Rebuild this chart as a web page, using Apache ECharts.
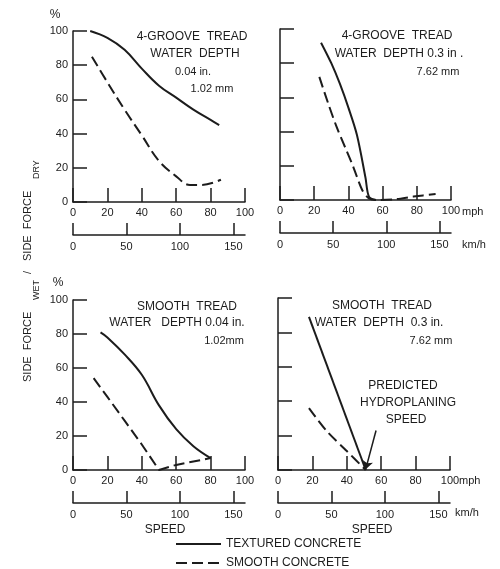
<!DOCTYPE html>
<html>
<head>
<meta charset="utf-8">
<script src="https://cdn.jsdelivr.net/npm/echarts@6.0.0/dist/echarts.min.js"></script>
<style>
  html, body { margin: 0; padding: 0; background: #fff; }
  #chart { width: 500px; height: 569px; }
</style>
</head>
<body>
<div id="chart"></div>
<script>
// axis ticks
const mphTicks = [0, 20, 40, 60, 80, 100];
const kmhTicks = [0, 50, 100, 150];
const kmhMax = 160.9; // = 100 mph
const pctTicks = [0, 20, 40, 60, 80, 100];

const seriesNames = ['TEXTURED CONCRETE', 'SMOOTH CONCRETE'];

// [mph, side force wet / dry %]
// 4-groove tread, water depth 0.04 in.
const grooveThinTextured = [[10, 100], [20, 96], [30, 89], [40, 78], [50, 68], [60, 61], [70, 54], [80, 48], [85, 45]];
const grooveThinSmooth = [[11, 85], [20, 70], [30, 54], [40, 39], [50, 24], [60, 15], [68, 10], [75, 10], [86, 13]];
// 4-groove tread, water depth 0.3 in.
const grooveDeepTextured = [[24, 92], [30, 80], [35, 68], [40, 54], [45, 38], [50, 13], [52, 2], [56, 0]];
const grooveDeepSmooth = [[23, 72], [28, 57], [33, 43], [38, 31], [43, 19], [48, 6], [52, 1], [58, 0], [68, 0.5], [78, 2], [91, 3.5]];
// smooth tread, water depth 0.04 in.
const smoothThinTextured = [[16, 81], [20, 78], [30, 68], [40, 56], [50, 38], [60, 24], [70, 14], [80, 7]];
const smoothThinSmooth = [[12, 54], [20, 43], [30, 29], [40, 15], [50, 0], [60, 3], [80, 7]];
// smooth tread, water depth 0.3 in.
const smoothDeepTextured = [[18, 89], [51, 0]];
const smoothDeepSmooth = [[18, 36], [28, 23], [40, 11], [51, 0]];
// predicted hydroplaning speed pointer
const arrowFrom = [57, 23];
const arrowTo = [51, 0.5];

const ink = '#1c1c1c';
const font = 'Liberation Sans, Arial, sans-serif';

const grids = [
  { left: 73, top: 31, width: 172, height: 171 },
  { left: 280, top: 29, width: 171, height: 171 },
  { left: 73, top: 300, width: 172, height: 170 },
  { left: 278, top: 298, width: 172, height: 172 }
];

const axisLine = { show: true, onZero: false, lineStyle: { color: ink, width: 1.5 } };
const tickStyle = { color: ink, width: 1.5 };
const labelStyle = { color: ink, fontSize: 11, fontFamily: font };

const xAxis = [];
const yAxis = [];
grids.forEach((g, i) => {
  xAxis.push({
    gridIndex: i, type: 'value', min: 0, max: 100, interval: 20,
    axisLine,
    axisTick: { show: true, inside: true, length: 14, lineStyle: tickStyle, customValues: mphTicks },
    axisLabel: { ...labelStyle, margin: 5, customValues: mphTicks },
    splitLine: { show: false }
  });
  xAxis.push({
    gridIndex: i, type: 'value', min: 0, max: kmhMax, position: 'bottom', offset: 33,
    axisLine,
    axisTick: { show: true, inside: true, length: 12, lineStyle: tickStyle, customValues: kmhTicks },
    axisLabel: { ...labelStyle, margin: 6, customValues: kmhTicks },
    splitLine: { show: false }
  });
  yAxis.push({
    gridIndex: i, type: 'value', min: 0, max: 100, interval: 20,
    axisLine,
    axisTick: { show: true, inside: true, length: 14, lineStyle: tickStyle, customValues: pctTicks },
    axisLabel: { ...labelStyle, show: i % 2 === 0, margin: 5, customValues: pctTicks },
    splitLine: { show: false }
  });
});

function curve(name, data, i, dashed, smooth) {
  return {
    name, type: 'line', data, xAxisIndex: i * 2, yAxisIndex: i,
    symbol: 'none', showSymbol: false, smooth, silent: true,
    lineStyle: { color: ink, width: 2, type: dashed ? [11, 5] : 'solid' },
    itemStyle: { color: ink }
  };
}

const series = [
  curve(seriesNames[0], grooveThinTextured, 0, false, 0.4),
  curve(seriesNames[1], grooveThinSmooth, 0, true, 0.4),
  curve(seriesNames[0], grooveDeepTextured, 1, false, 0.3),
  curve(seriesNames[1], grooveDeepSmooth, 1, true, 0.3),
  curve(seriesNames[0], smoothThinTextured, 2, false, 0.4),
  curve(seriesNames[1], smoothThinSmooth, 2, true, false),
  curve(seriesNames[0], smoothDeepTextured, 3, false, false),
  curve(seriesNames[1], smoothDeepSmooth, 3, true, 0.3)
];
series[6].markLine = {
  silent: true, symbol: ['none', 'arrow'], symbolSize: 8,
  label: { show: false },
  lineStyle: { color: ink, width: 1.5, type: 'solid' },
  data: [[{ coord: arrowFrom }, { coord: arrowTo }]]
};

function txt(text, x, y, size, align) {
  return {
    type: 'text', x, y, silent: true,
    style: { text, fill: ink, font: size + 'px ' + font, textAlign: align || 'center', textVerticalAlign: 'middle' }
  };
}

const graphic = [
  txt('4-GROOVE  TREAD', 192, 37, 12),
  txt('WATER  DEPTH', 195, 54, 12),
  txt('0.04 in.', 193, 72, 11),
  txt('1.02 mm', 212, 89, 11),

  txt('4-GROOVE  TREAD', 397, 36, 12),
  txt('WATER  DEPTH 0.3 in .', 399, 54, 12),
  txt('7.62 mm', 438, 72, 11),

  txt('SMOOTH  TREAD', 187, 307, 12),
  txt('WATER   DEPTH 0.04 in.', 177, 323, 12),
  txt('1.02mm', 224, 341, 11),

  txt('SMOOTH  TREAD', 382, 306, 12),
  txt('WATER  DEPTH  0.3 in.', 379, 323, 12),
  txt('7.62 mm', 431, 341, 11),
  txt('PREDICTED', 403, 386, 12),
  txt('HYDROPLANING', 408, 403, 12),
  txt('SPEED', 406, 420, 12),

  txt('%', 55, 15, 12),
  txt('%', 58, 283, 12),
  txt('mph', 462, 212, 11, 'left'),
  txt('mph', 459, 481, 11, 'left'),
  txt('km/h', 462, 245, 11, 'left'),
  txt('km/h', 455, 513, 11, 'left'),
  txt('SPEED', 165, 530, 12),
  txt('SPEED', 372, 530, 12),

  // vertical axis title, subscripts sit to the right of the main text
  {
    type: 'group', x: 28, y: 382, rotation: Math.PI / 2, silent: true,
    children: [
      txt('SIDE  FORCE', 0, 0, 11, 'left'),
      txt('WET', 82, 9, 9, 'left'),
      txt('/', 108, 0, 11, 'left'),
      txt('SIDE  FORCE', 121, 0, 11, 'left'),
      txt('DRY', 203, 9, 9, 'left')
    ]
  }
];

const chart = echarts.init(document.getElementById('chart'));
chart.setOption({
  backgroundColor: '#fff',
  animation: false,
  grid: grids,
  xAxis,
  yAxis,
  series,
  graphic,
  legend: {
    data: seriesNames,
    orient: 'vertical', left: 175, top: 538,
    itemWidth: 45, itemHeight: 10, itemGap: 7, padding: 0,
    selectedMode: false,
    itemStyle: { opacity: 0 },
    textStyle: { color: ink, fontSize: 12, fontFamily: font }
  }
});
</script>
</body>
</html>
